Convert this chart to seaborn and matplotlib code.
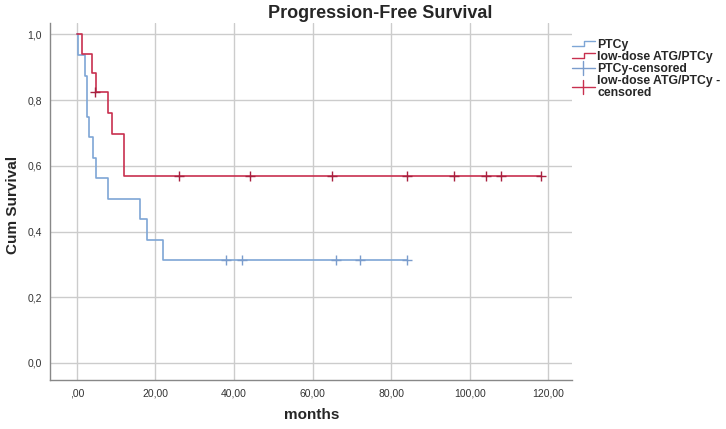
import matplotlib
matplotlib.use("Agg")
import matplotlib.pyplot as plt
import seaborn as sns
import pandas as pd
from matplotlib.legend_handler import HandlerBase
from matplotlib.lines import Line2D

# ---- data ----
ptcy_time = [0, 0.4, 2.1, 2.6, 3.1, 4.1, 5.0, 8.0, 16.0, 18.0, 22.0, 84.0]
ptcy_surv = [1.0, 0.9375, 0.875, 0.75, 0.6875, 0.625, 0.5625, 0.5, 0.4375, 0.375, 0.3125, 0.3125]
ptcy_cens_time = [38, 42, 66, 72, 84]
ptcy_cens_surv = [0.3125, 0.3125, 0.3125, 0.3125, 0.3125]

atg_time = [0, 1.4, 3.8, 4.9, 8.0, 9.0, 12.0, 118.0]
atg_surv = [1.0, 0.941, 0.882, 0.824, 0.760, 0.697, 0.570, 0.570]
atg_cens_time = [4.6, 26, 44, 65, 84, 96, 104, 108, 118]
atg_cens_surv = [0.824, 0.570, 0.570, 0.570, 0.570, 0.570, 0.570, 0.570, 0.570]

x_ticks = [0, 20, 40, 60, 80, 100, 120]
x_tick_labels = [",00", "20,00", "40,00", "60,00", "80,00", "100,00", "120,00"]
y_ticks = [0.0, 0.2, 0.4, 0.6, 0.8, 1.0]
y_tick_labels = ["0,0", "0,2", "0,4", "0,6", "0,8", "1,0"]
legend_labels = ["PTCy", "low-dose ATG/PTCy", "PTCy-censored", "low-dose ATG/PTCy -\ncensored"]

BLUE = "#7ea6d6"
RED = "#c8304f"
RED_DARK = "#a8203f"
BLUE_CENS = "#7a9ccc"

sns.set_theme(style="white")
plt.rcParams["font.family"] = ["Liberation Sans", "DejaVu Sans"]

fig = plt.figure(figsize=(7.26, 4.29), dpi=100)
ax = fig.add_axes([50 / 726, 1 - 380 / 429, (572 - 50) / 726, (380 - 23) / 429])

df_p = pd.DataFrame({"t": ptcy_time, "s": ptcy_surv})
df_a = pd.DataFrame({"t": atg_time, "s": atg_surv})
sns.lineplot(data=df_p, x="t", y="s", ax=ax, color=BLUE, lw=1.2, drawstyle="steps-post",
             estimator=None, sort=False, zorder=3)
sns.lineplot(data=df_a, x="t", y="s", ax=ax, color=RED, lw=1.2, drawstyle="steps-post",
             estimator=None, sort=False, zorder=4)
sns.scatterplot(x=ptcy_cens_time, y=ptcy_cens_surv, ax=ax, marker="+", s=45, color=BLUE_CENS,
                linewidth=1.0, zorder=5)
sns.scatterplot(x=atg_cens_time, y=atg_cens_surv, ax=ax, marker="+", s=45, color=RED_DARK,
                linewidth=1.0, zorder=6)

ax.set_xlim(-6.8, 126.0)
ax.set_ylim(-0.052, 1.035)
ax.set_xticks(x_ticks)
ax.set_xticklabels(x_tick_labels)
ax.set_yticks(y_ticks)
ax.set_yticklabels(y_tick_labels)
ax.tick_params(axis="both", length=0, labelsize=7.5, labelcolor="#333333", pad=6)
ax.grid(True, color="#cccccc", lw=1.0)
ax.set_axisbelow(True)
for s in ["top", "right"]:
    ax.spines[s].set_visible(False)
for s in ["left", "bottom"]:
    ax.spines[s].set_color("#888888")
    ax.spines[s].set_linewidth(1.0)

ax.set_xlabel("")
ax.set_ylabel("")
fig.text(312 / 726, 1 - 415 / 429, "months", ha="center", va="center",
         fontsize=11, fontweight="bold")
fig.text(13 / 726, 1 - 205 / 429, "Cum Survival", ha="center", va="center", rotation=90,
         fontsize=11, fontweight="bold")
fig.text(380 / 726, 1 - 14 / 429, "Progression-Free Survival", ha="center", va="center",
         fontsize=13, fontweight="bold")


class StepHandler(HandlerBase):
    def create_artists(self, legend, orig_handle, xdescent, ydescent, width, height, fontsize, trans):
        c = orig_handle.get_color()
        xs = [-xdescent, -xdescent + width * 0.55, -xdescent + width * 0.55, -xdescent + width]
        ys = [height * 0.2, height * 0.2, height * 0.8, height * 0.8]
        ln = Line2D(xs, ys, color=c, lw=1.0, transform=trans)
        return [ln]


class CrossHandler(HandlerBase):
    def create_artists(self, legend, orig_handle, xdescent, ydescent, width, height, fontsize, trans):
        c = orig_handle.get_color()
        h = Line2D([-xdescent, -xdescent + width], [height / 2, height / 2], color=c, lw=1.0, transform=trans)
        v = Line2D([-xdescent + width / 2] * 2, [height / 2 - 5, height / 2 + 5], color=c, lw=1.0, transform=trans)
        return [h, v]


h1 = Line2D([], [], color=BLUE)
h2 = Line2D([], [], color=RED)
h3 = Line2D([], [], color=BLUE_CENS)
h4 = Line2D([], [], color=RED)
leg = fig.legend([h1, h2, h3, h4], legend_labels,
                 handler_map={h1: StepHandler(), h2: StepHandler(), h3: CrossHandler(), h4: CrossHandler()},
                 loc="upper left", bbox_to_anchor=(563 / 726, 1 - 30 / 429), frameon=False,
                 prop={"weight": "bold", "size": 8.8}, handlelength=1.9, handletextpad=0.2,
                 labelspacing=0.02, borderpad=0.2)
leg.get_texts()[3].set_linespacing(0.95)

fig.savefig("out.png", dpi=100)
